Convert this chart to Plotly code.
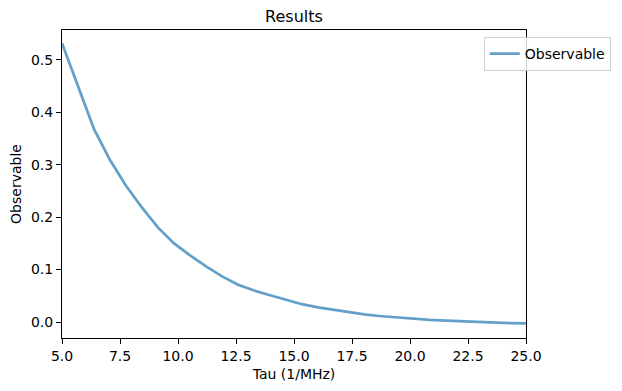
import plotly.graph_objects as go

tau = [5.00, 5.69, 6.38, 7.07, 7.76, 8.45, 9.14, 9.83, 10.52, 11.21,
       11.90, 12.59, 13.28, 13.97, 14.66, 15.34, 16.03, 16.72, 17.41, 18.10,
       18.79, 19.48, 20.17, 20.86, 21.55, 22.24, 22.93, 23.62, 24.31, 25.00]
observable = [0.532, 0.450, 0.368, 0.309, 0.260, 0.218, 0.180, 0.150, 0.127, 0.106,
              0.087, 0.071, 0.060, 0.051, 0.042, 0.034, 0.028, 0.023, 0.019, 0.014,
              0.011, 0.0085, 0.006, 0.004, 0.0025, 0.0012, 0.0, -0.001, -0.002, -0.0025]
x_ticks = [5.0, 7.5, 10.0, 12.5, 15.0, 17.5, 20.0, 22.5, 25.0]
y_ticks = [0.0, 0.1, 0.2, 0.3, 0.4, 0.5]

fig = go.Figure()
fig.add_trace(go.Scatter(
    x=tau, y=observable, mode="lines", name="Observable",
    line=dict(color="rgba(31,119,180,0.7)", width=2.7),
))

axis_common = dict(
    showline=True, linecolor="black", linewidth=1, mirror=True,
    ticks="outside", ticklen=5, tickwidth=1, tickcolor="black",
    showgrid=False, zeroline=False,
    tickfont=dict(family="DejaVu Sans", size=14, color="black"),
)

W, H = 622, 391
L, T, PW, PH = 54, 22, 464, 308

fig.update_layout(
    width=W, height=H,
    margin=dict(l=L, r=W - L - PW, t=T, b=H - T - PH, autoexpand=False),
    paper_bgcolor="white", plot_bgcolor="white",
    font=dict(family="DejaVu Sans", size=14, color="black"),
    title=dict(text="Results", x=(L + PW / 2) / W, xanchor="center",
               y=1 - 3 / H, yanchor="top", pad=dict(t=0, b=0),
               font=dict(family="DejaVu Sans", size=16, color="black")),
    xaxis=dict(range=[5, 25], tickvals=x_ticks,
               ticktext=[f"{v:.1f}" for v in x_ticks],
               title=dict(text="Tau (1/MHz)", standoff=6,
                          font=dict(family="DejaVu Sans", size=14)),
               **axis_common),
    yaxis=dict(range=[-0.0305, 0.557], tickvals=y_ticks,
               ticktext=[f"{v:.1f}" for v in y_ticks],
               title=dict(text="Observable", standoff=8,
                          font=dict(family="DejaVu Sans", size=14)),
               **axis_common),
    showlegend=True,
    legend=dict(x=0.909, y=0.977, xanchor="left", yanchor="top",
                bgcolor="rgba(255,255,255,0.8)", bordercolor="#d0d0d0",
                borderwidth=1, font=dict(family="DejaVu Sans", size=14),
                itemwidth=30),
)

fig.write_html("out.html")
